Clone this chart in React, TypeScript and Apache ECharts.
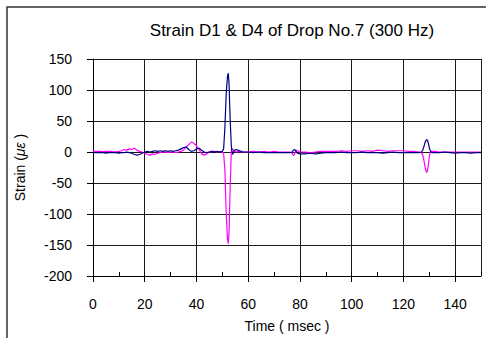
import React, { useEffect, useRef } from "react";
import * as echarts from "echarts";

const titleText = "Strain D1 & D4 of Drop No.7 (300 Hz)";
const xName = "Time ( msec )";

const time = [
  0, 1, 2, 3, 4, 5, 6, 7, 8, 9,
  10, 11, 12, 13, 14, 15, 16, 17, 18, 19,
  20, 21, 22, 23, 24, 25, 26, 27, 28, 29,
  30, 31, 32, 33, 34, 35, 36, 37, 38, 39,
  40, 41, 42, 43, 44, 45, 46, 47, 48, 49,
  50, 50.5, 51, 51.5, 52, 52.3, 52.6, 53, 53.5, 54, 54.5, 55,
  56, 58, 60, 62, 64, 66, 68, 70, 72, 74, 76,
  77, 77.5, 78, 78.5, 79, 80,
  82, 84, 86, 88, 90, 92, 94, 96, 98, 100, 102, 104, 106, 108, 110, 112, 114, 116, 118, 120, 122, 124, 126,
  127, 127.5, 128, 128.5, 129, 129.3, 129.6, 130, 130.5, 131,
  132, 134, 136, 138, 140, 142, 144, 146, 148, 150,
];

const strainD1 = [
  -1, -1, -1, -0.5, -1, -2, -1, -1, -0.5, -1,
  -2, -1, -1, 0, -1, -2, -4, -5, -4, -2,
  0, 1, 0, 1, 2, 1, 2, 1, 2, 1,
  2, 1, 2, 3, 5, 7, 8, 4, 1, 2,
  5, 6, 3, 0, -1, 0, 1, 0, 1, 0,
  1, 5, 40, 95, 122, 127, 110, 55, 8, -4, 1, 4,
  3, 0, 0, -1, 0, -1, -1, -1, -1, -1, -1,
  0, 3, 4, 1, -2, -3,
  -3, -2, -3, -2, -1, -1, -1, 0, -1, -1, -1, 0, -1, -1, -1, -2, -1, 0, -1, -1, -1, -1, -1,
  0, 3, 10, 17, 20, 19, 15, 7, 1, -1,
  -1, -1, 0, -1, -2, -1, -1, -2, -1, -1,
];

const strainD4 = [
  1, 1, 1, 1, 0.5, 1, 1, 1, 0, 0.5,
  1, 2, 4, 3, 5, 4, 6, 3, 1, 0,
  -2, -4, -5, -3, -4, -2, -1, 0, 0, -1,
  0, 0, -1, 0, 1, 3, 8, 12, 16, 14,
  10, 4, -3, -5, -3, 0, 1, 1, 0, 1,
  0, -2, -30, -100, -140, -148, -130, -60, 4, 5, 2, 0,
  1, 0, 0, 1, 0, 1, 0, 1, 0, 0, 0,
  -2, -6, -3, 3, 2, 0,
  0, -1, 0, 1, 1, 1, 1, 2, 1, 2, 2, 1, 2, 1, 3, 2, 1, 2, 2, 2, 1, 1, 0,
  -1, -5, -15, -27, -33, -30, -22, -8, 1, 1,
  1, 0, 0, 0, 0, 0, 0, 0, 0, 0,
];

const FONT = "'Liberation Sans', Arial, sans-serif";

export default function App() {
  const ref = useRef<HTMLDivElement>(null);
  useEffect(() => {
    if (!ref.current) return;
    const chart = echarts.init(ref.current, null, { renderer: "svg" });
    const d1 = time.map((t, i) => [t, strainD1[i]]);
    const d4 = time.map((t, i) => [t, strainD4[i]]);
    chart.setOption({
      animation: false,
      backgroundColor: "#fff",
      textStyle: { fontFamily: FONT },
      title: {
        text: titleText,
        left: 292,
        top: 22,
        padding: 0,
        textAlign: "center",
        textStyle: { fontFamily: FONT, fontSize: 17, fontWeight: "normal", color: "#000" },
      },
      graphic: [
        {
          type: "rect",
          z: 100,
          shape: { x: 7, y: 7, width: 520, height: 400 },
          style: { fill: "none", stroke: "#333", lineWidth: 1.5 },
          silent: true,
        },
      ],
      grid: { left: 93, right: 5, top: 59, bottom: 62, containLabel: false },
      xAxis: [
        {
          type: "value",
          min: 0,
          max: 150,
          interval: 20,
          name: xName,
          nameLocation: "middle",
          nameGap: 43,
          nameTextStyle: { fontFamily: FONT, fontSize: 14, color: "#000" },
          axisLine: { show: true, onZero: false, lineStyle: { color: "#000", width: 1 } },
          axisTick: { show: true, length: 6, lineStyle: { color: "#000" } },
          axisLabel: { fontFamily: FONT, fontSize: 14, color: "#000", margin: 21, showMaxLabel: false },
          splitLine: { show: true, lineStyle: { color: "#1a1a1a", width: 1 } },
        },
        {
          type: "value",
          min: 0,
          max: 150,
          interval: 10,
          position: "bottom",
          axisLine: { show: false, onZero: false },
          axisTick: { show: true, inside: true, length: 4, lineStyle: { color: "#000" } },
          axisLabel: { show: false },
          splitLine: { show: false },
        },
      ],
      yAxis: {
        type: "value",
        min: -200,
        max: 150,
        interval: 50,
        name: "{a|Strain (}{b|με}{a| )}",
        nameLocation: "middle",
        nameGap: 66,
        nameTextStyle: {
          rich: {
            a: { fontFamily: FONT, fontSize: 14, color: "#000" },
            b: { fontFamily: FONT, fontSize: 14, color: "#000", fontStyle: "italic" },
          },
        },
        axisLine: { show: true, onZero: false, lineStyle: { color: "#000", width: 1 } },
        axisTick: { show: true, length: 6, lineStyle: { color: "#000" } },
        axisLabel: { fontFamily: FONT, fontSize: 14, color: "#000", margin: 21 },
        splitLine: { show: true, lineStyle: { color: "#1a1a1a", width: 1 } },
      },
      series: [
        {
          name: "D4",
          type: "line",
          data: d4,
          showSymbol: false,
          symbol: "none",
          lineStyle: { color: "#ff00ff", width: 1.2 },
          itemStyle: { color: "#ff00ff" },
        },
        {
          name: "D1",
          type: "line",
          data: d1,
          showSymbol: false,
          symbol: "none",
          lineStyle: { color: "#000080", width: 1.2 },
          itemStyle: { color: "#000080" },
        },
      ],
    });
    return () => chart.dispose();
  }, []);
  return (
    <div
      ref={ref}
      style={{ position: "absolute", left: 0, top: 0, width: 486, height: 338, overflow: "hidden" }}
    />
  );
}
